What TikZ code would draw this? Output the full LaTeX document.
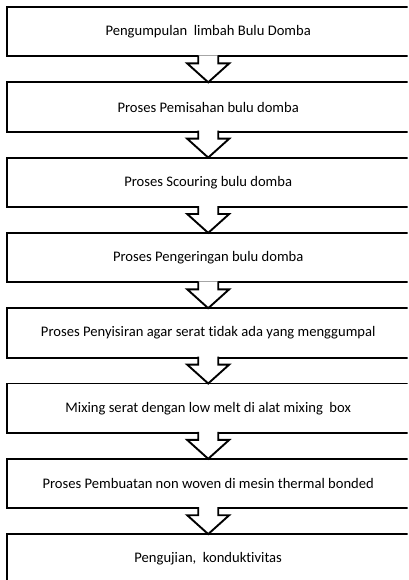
\documentclass[tikz,border=0pt]{standalone}
\usepackage{fontspec}
\setmainfont{Carlito}[Ligatures={NoCommon}]
\usetikzlibrary{calc}
\tikzset{
  stepbox/.style={minimum width=402pt, minimum height=49pt,
    anchor=north west, inner sep=0pt, font=\fontsize{14.6}{17}\selectfont},
  boxline/.style={draw=black, line width=1.9pt},
  arrowshape/.style={draw=black, fill=white, line width=1.9pt, line join=miter},
}
\newcommand{\stepframe}[1]{%
  \draw[boxline] (#1.north west) rectangle ($(#1.south east)+(30,0)$);}
\newcommand{\flowarrow}[2]{%
  \filldraw[arrowshape] ($(#1.south)+(-10,-1)$) -- ($(#1.south)+(-10,7)$) -- ($(#1.south)+(-21,7)$)
    -- (#2.north) -- ($(#1.south)+(21,7)$) -- ($(#1.south)+(10,7)$) -- ($(#1.south)+(10,-1)$);}
\begin{document}
\begin{tikzpicture}[x=1pt,y=-1pt]
\useasboundingbox (0,0) rectangle (408,580);
\clip (0,0) rectangle (407.5,580);
\node[stepbox] (b1) at (7,7) {Pengumpulan\ \ limbah Bulu Domba};
\node[stepbox] (b2) at (7,82.3) {Proses Pemisahan bulu domba};
\node[stepbox] (b3) at (7,157.6) {Proses Scouring bulu domba};
\node[stepbox] (b4) at (7,232.9) {Proses Pengeringan bulu domba};
\node[stepbox] (b5) at (7,308.2) {Proses Penyisiran agar serat tidak ada yang menggumpal};
\node[stepbox] (b6) at (7,383.5) {Mixing serat dengan low melt di alat mixing\ \ box};
\node[stepbox] (b7) at (7,458.8) {Proses Pembuatan non woven di mesin thermal bonded};
\node[stepbox] (b8) at (7,534.1) {Pengujian,\ \ konduktivitas};
\foreach \b in {b1,b2,b3,b4,b5,b6,b7,b8} {\stepframe{\b}}
\flowarrow{b1}{b2}
\flowarrow{b2}{b3}
\flowarrow{b3}{b4}
\flowarrow{b4}{b5}
\flowarrow{b5}{b6}
\flowarrow{b6}{b7}
\flowarrow{b7}{b8}
\end{tikzpicture}
\end{document}
